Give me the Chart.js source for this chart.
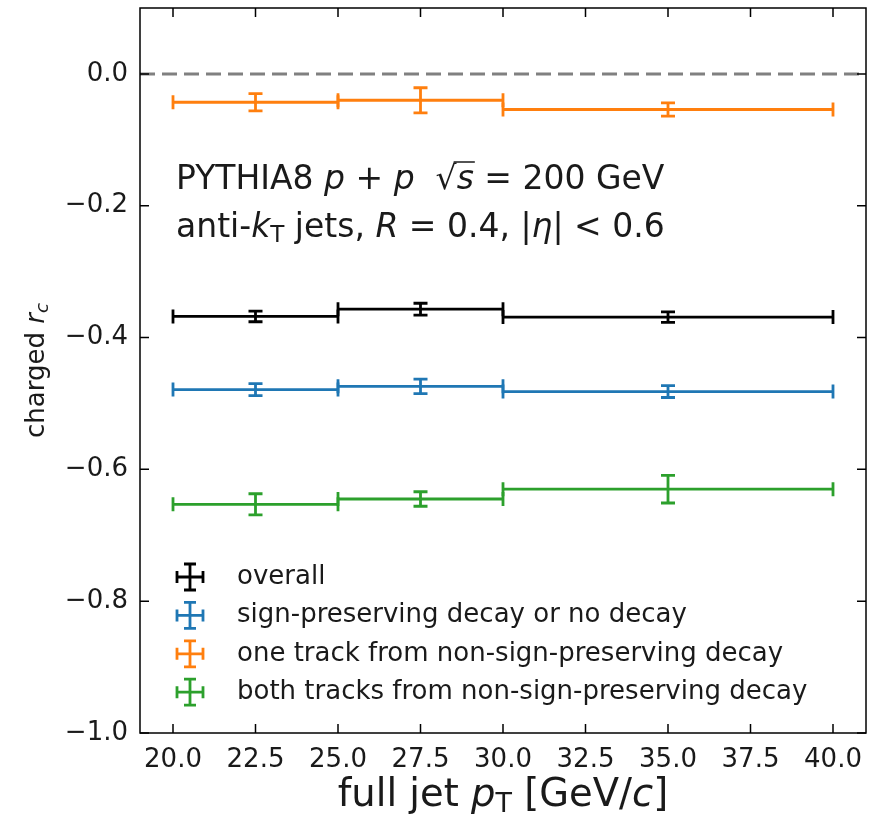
<!DOCTYPE html>
<html>
<head>
<meta charset="utf-8">
<script src="https://cdn.jsdelivr.net/npm/chart.js@4.4.1/dist/chart.umd.min.js"></script>
<style>
  body { margin: 0; background: #fff; }
</style>
</head>
<body>
<canvas id="myChart" width="889" height="818"></canvas>
<script>
// full jet pT bins (centre, half width)
let pt_centers = [22.5, 27.5, 35.0];
let pt_halfwidths = [2.5, 2.5, 5.0];

// charged r_c per bin and its statistical error
let overall_rc = [-0.368, -0.357, -0.369];
let overall_err = [0.008, 0.009, 0.008];
let signpres_rc = [-0.479, -0.474, -0.482];
let signpres_err = [0.009, 0.011, 0.009];
let onetrack_rc = [-0.043, -0.040, -0.054];
let onetrack_err = [0.013, 0.019, 0.010];
let bothtracks_rc = [-0.653, -0.645, -0.630];
let bothtracks_err = [0.016, 0.011, 0.021];

let series_labels = [
    'overall',
    'sign-preserving decay or no decay',
    'one track from non-sign-preserving decay',
    'both tracks from non-sign-preserving decay'
];
let series_colors = ['#000000', '#1f77b4', '#ff7f0e', '#2ca02c'];

let x_ticks = [20.0, 22.5, 25.0, 27.5, 30.0, 32.5, 35.0, 37.5, 40.0];
let y_ticks = [0.0, -0.2, -0.4, -0.6, -0.8, -1.0];
let zero_line = 0.0;

const FONT = '"DejaVu Sans", sans-serif';
const TEXT = '#1a1a1a';

function makePoints(vals, errs) {
    return vals.map((v, i) => ({ x: pt_centers[i], y: v, xerr: pt_halfwidths[i], yerr: errs[i] }));
}

// draws a run of text pieces: {t, it, scale, dy}
function drawRuns(ctx, x, y, size, runs, align) {
    let widths = runs.map(r => {
        ctx.font = (r.it ? 'oblique ' : '') + (size * (r.scale || 1)) + 'px ' + FONT;
        return ctx.measureText(r.t).width;
    });
    let total = widths.reduce((a, b) => a + b, 0);
    let cx = align === 'center' ? x - total / 2 : x;
    let pos = [];
    runs.forEach((r, i) => {
        ctx.font = (r.it ? 'oblique ' : '') + (size * (r.scale || 1)) + 'px ' + FONT;
        ctx.fillText(r.t, cx, y + (r.dy || 0) * size);
        pos.push([cx, cx + widths[i]]);
        cx += widths[i];
    });
    return pos;
}

const errorBars = {
    id: 'errorBars',
    beforeDatasetsDraw(chart) {
        const ctx = chart.ctx, a = chart.chartArea;
        const y0 = chart.scales.y.getPixelForValue(zero_line);
        ctx.save();
        ctx.strokeStyle = '#808080';
        ctx.lineWidth = 3;
        ctx.setLineDash([15, 7]);
        ctx.beginPath();
        ctx.moveTo(a.left, y0);
        ctx.lineTo(a.right, y0);
        ctx.stroke();
        ctx.restore();
    },
    afterDatasetsDraw(chart) {
        const ctx = chart.ctx, xs = chart.scales.x, ys = chart.scales.y;
        const cap = 7;
        ctx.save();
        ctx.lineWidth = 2.8;
        chart.data.datasets.forEach(ds => {
            ctx.strokeStyle = ds.borderColor;
            ds.data.forEach(p => {
                const xa = xs.getPixelForValue(p.x - p.xerr), xb = xs.getPixelForValue(p.x + p.xerr);
                const xc = xs.getPixelForValue(p.x), yc = ys.getPixelForValue(p.y);
                const ya = ys.getPixelForValue(p.y - p.yerr), yb = ys.getPixelForValue(p.y + p.yerr);
                ctx.beginPath();
                ctx.moveTo(xa, yc); ctx.lineTo(xb, yc);
                ctx.moveTo(xa, yc - cap); ctx.lineTo(xa, yc + cap);
                ctx.moveTo(xb, yc - cap); ctx.lineTo(xb, yc + cap);
                ctx.moveTo(xc, ya); ctx.lineTo(xc, yb);
                ctx.moveTo(xc - cap, ya); ctx.lineTo(xc + cap, ya);
                ctx.moveTo(xc - cap, yb); ctx.lineTo(xc + cap, yb);
                ctx.stroke();
            });
        });
        ctx.restore();
    },
    afterDraw(chart) {
        const ctx = chart.ctx, a = chart.chartArea;
        const xs = chart.scales.x, ys = chart.scales.y;
        ctx.save();
        // frame + inward ticks on all sides
        ctx.strokeStyle = '#000';
        ctx.lineWidth = 1.5;
        ctx.strokeRect(a.left, a.top, a.right - a.left, a.bottom - a.top);
        const tl = 9;
        ctx.beginPath();
        xs.ticks.forEach(t => {
            const px = xs.getPixelForValue(t.value);
            ctx.moveTo(px, a.bottom); ctx.lineTo(px, a.bottom - tl);
            ctx.moveTo(px, a.top); ctx.lineTo(px, a.top + tl);
        });
        ys.ticks.forEach(t => {
            const py = ys.getPixelForValue(t.value);
            ctx.moveTo(a.left, py); ctx.lineTo(a.left + tl, py);
            ctx.moveTo(a.right, py); ctx.lineTo(a.right - tl, py);
        });
        ctx.stroke();

        ctx.fillStyle = TEXT;
        ctx.textBaseline = 'alphabetic';

        // annotation
        const tx = 176;
        let runs1 = [
            { t: 'PYTHIA8 ' }, { t: 'p', it: true }, { t: ' + ' }, { t: 'p', it: true },
            { t: '  \u221A' }, { t: 's', it: true }, { t: ' = 200 GeV' }
        ];
        let pos = drawRuns(ctx, tx, 189, 33, runs1);
        ctx.beginPath();
        ctx.lineWidth = 1.5;
        ctx.strokeStyle = TEXT;
        ctx.moveTo(pos[4][1] - 3, 189 - 27);
        ctx.lineTo(pos[5][1] + 1, 189 - 27);
        ctx.stroke();
        drawRuns(ctx, tx, 237, 33, [
            { t: 'anti-' }, { t: 'k', it: true }, { t: 'T', scale: 0.7, dy: 0.15 },
            { t: ' jets, ' }, { t: 'R', it: true }, { t: ' = 0.4, |' },
            { t: '\u03B7', it: true }, { t: '| < 0.6' }
        ]);

        // axis titles
        drawRuns(ctx, (a.left + a.right) / 2, 806, 38.5, [
            { t: 'full jet ' }, { t: 'p', it: true }, { t: 'T', scale: 0.7, dy: 0.15 },
            { t: ' [GeV/' }, { t: 'c', it: true }, { t: ']' }
        ], 'center');
        ctx.save();
        ctx.translate(44, (a.top + a.bottom) / 2);
        ctx.rotate(-Math.PI / 2);
        drawRuns(ctx, 0, 0, 26, [
            { t: 'charged ' }, { t: 'r', it: true }, { t: 'c', it: true, scale: 0.7, dy: 0.15 }
        ], 'center');
        ctx.restore();

        // legend with errorbar handles
        const lx = 190, ly = 577, step = 38.4;
        chart.data.datasets.forEach((ds, i) => {
            const cy = ly + i * step;
            ctx.strokeStyle = ds.borderColor;
            ctx.lineWidth = 2.8;
            ctx.beginPath();
            ctx.moveTo(lx - 13, cy); ctx.lineTo(lx + 13, cy);
            ctx.moveTo(lx - 13, cy - 6); ctx.lineTo(lx - 13, cy + 6);
            ctx.moveTo(lx + 13, cy - 6); ctx.lineTo(lx + 13, cy + 6);
            ctx.moveTo(lx, cy - 13); ctx.lineTo(lx, cy + 13);
            ctx.moveTo(lx - 6, cy - 13); ctx.lineTo(lx + 6, cy - 13);
            ctx.moveTo(lx - 6, cy + 13); ctx.lineTo(lx + 6, cy + 13);
            ctx.stroke();
            ctx.fillStyle = TEXT;
            ctx.font = '26px ' + FONT;
            ctx.textBaseline = 'middle';
            ctx.fillText(ds.label, 237, cy);
        });
        ctx.restore();
    }
};

const ctx = document.getElementById('myChart').getContext('2d');
const myChart = new Chart(ctx, {
    type: 'scatter',
    data: {
        datasets: [
            { label: series_labels[0], data: makePoints(overall_rc, overall_err), borderColor: series_colors[0], backgroundColor: series_colors[0], pointRadius: 0 },
            { label: series_labels[1], data: makePoints(signpres_rc, signpres_err), borderColor: series_colors[1], backgroundColor: series_colors[1], pointRadius: 0 },
            { label: series_labels[2], data: makePoints(onetrack_rc, onetrack_err), borderColor: series_colors[2], backgroundColor: series_colors[2], pointRadius: 0 },
            { label: series_labels[3], data: makePoints(bothtracks_rc, bothtracks_err), borderColor: series_colors[3], backgroundColor: series_colors[3], pointRadius: 0 }
        ]
    },
    options: {
        responsive: false,
        animation: false,
        layout: { padding: { left: 0, top: 8, right: 23, bottom: 0 } },
        plugins: { legend: { display: false }, tooltip: { enabled: false } },
        scales: {
            x: {
                type: 'linear',
                min: 19, max: 41,
                afterBuildTicks: s => { s.ticks = x_ticks.map(v => ({ value: v })); },
                afterFit: s => { s.height = 85; s.paddingLeft = 0; s.paddingRight = 0; },
                grid: { display: false, drawTicks: false },
                border: { display: false },
                ticks: {
                    padding: 12,
                    color: TEXT,
                    font: { family: 'DejaVu Sans', size: 26 },
                    maxRotation: 0,
                    callback: v => v.toFixed(1)
                }
            },
            y: {
                type: 'linear',
                min: -1.0, max: 0.1,
                afterBuildTicks: s => { s.ticks = y_ticks.map(v => ({ value: v })); },
                afterFit: s => { s.width = 140; s.paddingTop = 0; s.paddingBottom = 0; },
                grid: { display: false, drawTicks: false },
                border: { display: false },
                ticks: {
                    padding: 12,
                    color: TEXT,
                    font: { family: 'DejaVu Sans', size: 26 },
                    callback: v => (v < -1e-9 ? '\u2212' : '') + Math.abs(v).toFixed(1)
                }
            }
        }
    },
    plugins: [errorBars]
});
</script>
</body>
</html>
